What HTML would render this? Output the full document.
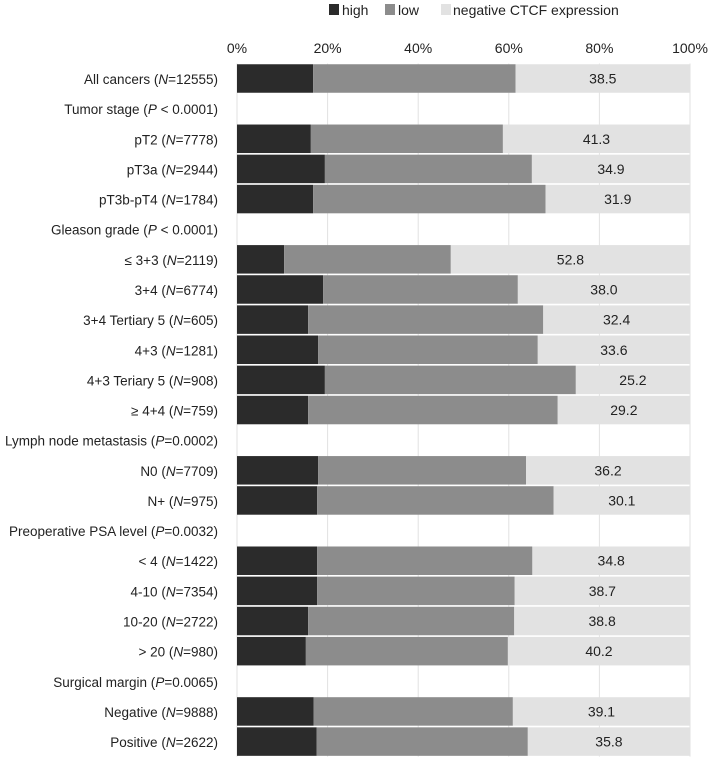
<!DOCTYPE html>
<html><head><meta charset="utf-8"><style>
body{margin:0;background:#fff;}
svg{display:block;font-family:"Liberation Sans",sans-serif;}
</style></head><body>
<svg id="c" width="709" height="759"></svg>
<script>
const labels=["All cancers (<i>N</i>=12555)","Tumor stage (<i>P</i> &lt; 0.0001)","pT2 (<i>N</i>=7778)","pT3a (<i>N</i>=2944)","pT3b-pT4 (<i>N</i>=1784)","Gleason grade (<i>P</i> &lt; 0.0001)","≤ 3+3 (<i>N</i>=2119)","3+4 (<i>N</i>=6774)","3+4 Tertiary 5 (<i>N</i>=605)","4+3 (<i>N</i>=1281)","4+3 Teriary 5 (<i>N</i>=908)","≥ 4+4 (<i>N</i>=759)","Lymph node metastasis (<i>P</i>=0.0002)","N0 (<i>N</i>=7709)","N+ (<i>N</i>=975)","Preoperative PSA level (<i>P</i>=0.0032)","&lt; 4 (<i>N</i>=1422)","4-10 (<i>N</i>=7354)","10-20 (<i>N</i>=2722)","&gt; 20 (<i>N</i>=980)","Surgical margin (<i>P</i>=0.0065)","Negative (<i>N</i>=9888)","Positive (<i>N</i>=2622)"];
const high=[16.8,null,16.3,19.4,16.8,null,10.4,19.0,15.7,17.9,19.4,15.7,null,17.9,17.7,null,17.7,17.7,15.7,15.2,null,16.9,17.6];
const low=[44.7,null,42.4,45.7,51.3,null,36.8,43.0,51.9,48.5,55.4,55.1,null,45.9,52.2,null,47.5,43.6,45.5,44.6,null,44.0,46.6];
const neg=[38.5,null,41.3,34.9,31.9,null,52.8,38.0,32.4,33.6,25.2,29.2,null,36.2,30.1,null,34.8,38.7,38.8,40.2,null,39.1,35.8];
const ticks=[0,20,40,60,80,100];
const X0=237,W=453,Y0=78.5,P=30.14,BH=28.5;
const x=v=>X0+v/100*W, y=i=>Y0+i*P;
const svg=document.getElementById('c');let h='';
ticks.forEach(t=>{h+=`<line x1="${x(t)}" x2="${x(t)}" y1="${y(0)-15}" y2="${y(22)+15}" stroke="#e2e2e2"/>`;
h+=`<text x="${x(t)}" y="53" text-anchor="middle" font-size="14" fill="#222">${t}%</text>`;});
labels.forEach((l,i)=>{
h+=`<text x="218" y="${y(i)+5.5}" text-anchor="end" font-size="13.5" fill="#222">${l.replace(/<i>/g,'<tspan font-style="italic">').replace(/<\/i>/g,'</tspan>')}</text>`;
if(high[i]==null)return;
const a=high[i],b=low[i],c=neg[i],t=y(i)-BH/2;
h+=`<rect x="${x(0)}" y="${t}" width="${x(a)-x(0)}" height="${BH}" fill="#2b2b2b"/>`;
h+=`<rect x="${x(a)}" y="${t}" width="${x(a+b)-x(a)}" height="${BH}" fill="#8c8c8c"/>`;
h+=`<rect x="${x(a+b)}" y="${t}" width="${x(100)-x(a+b)}" height="${BH}" fill="#e2e2e2"/>`;
h+=`<text x="${(x(a+b)+x(100))/2}" y="${y(i)+5}" text-anchor="middle" font-size="14" fill="#222">${c.toFixed(1)}</text>`;
});
h+=`<g>
<rect x="329" y="4" width="10" height="11" fill="#2b2b2b"/><text x="342" y="15" font-size="14" fill="#222">high</text>
<rect x="385" y="4" width="10" height="11" fill="#8c8c8c"/><text x="398" y="15" font-size="14" fill="#222">low</text>
<rect x="441" y="4" width="10" height="11" fill="#e2e2e2"/><text x="453" y="15" font-size="14" fill="#222">negative CTCF expression</text></g>`;
svg.innerHTML=h;
</script>
</body></html>
